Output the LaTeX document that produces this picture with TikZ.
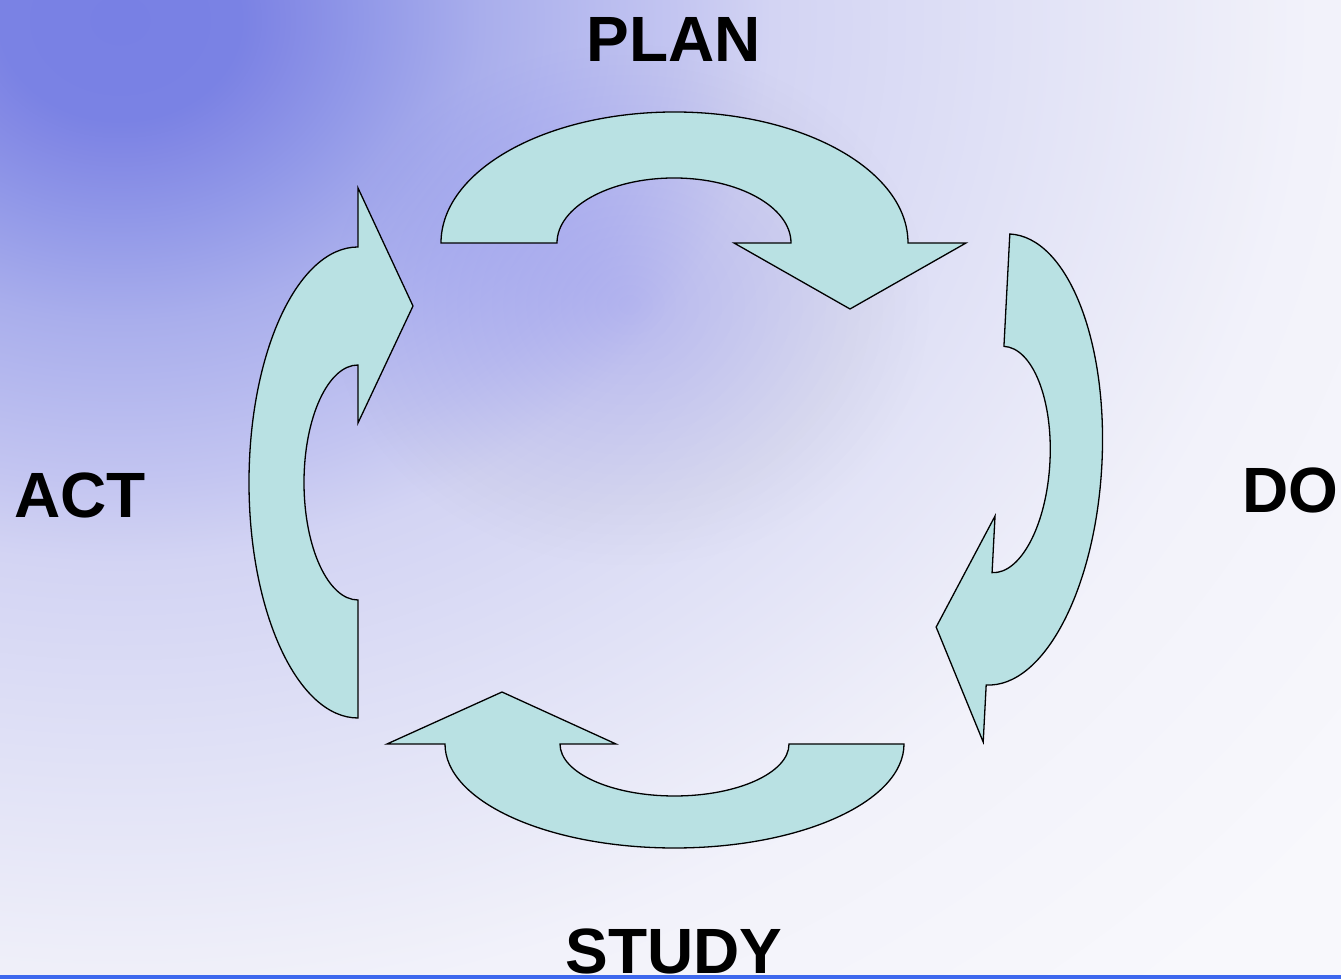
\documentclass[tikz,border=0pt]{standalone}
\usepackage{fontspec}
\setmainfont{Liberation Sans}
\definecolor{bgA}{HTML}{7880E4}
\definecolor{bgB}{HTML}{7A82E4}
\definecolor{bgC}{HTML}{8389E5}
\definecolor{bgD}{HTML}{9198E8}
\definecolor{bgE}{HTML}{A9AEEC}
\definecolor{bgF}{HTML}{C3C5F1}
\definecolor{bgG}{HTML}{D3D4F3}
\definecolor{bgH}{HTML}{E0E1F6}
\definecolor{bgI}{HTML}{F2F2FA}
\definecolor{bgJ}{HTML}{F8F8FC}
\definecolor{blobcol}{HTML}{A0A4EE}
\definecolor{arrowfill}{HTML}{B9E1E3}
\definecolor{lineblue}{HTML}{3D68EE}
\pgfdeclareradialshading{bgshade}{\pgfpoint{0bp}{0bp}}{color(0bp)=(bgA); color(100bp)=(bgB); color(135bp)=(bgC); color(200bp)=(bgD); color(300bp)=(bgE); color(460bp)=(bgF); color(541bp)=(bgG); color(734bp)=(bgH); color(990bp)=(bgI); color(1300bp)=(bgJ)}
\tikzset{
  cyclearrow/.style={fill=arrowfill, draw=black, line width=1.3pt, line join=miter},
  phase/.style={font=\bfseries\fontsize{64}{64}\selectfont, inner sep=0pt, anchor=base, text=black}
}
\begin{document}
\begin{tikzpicture}[x=1pt,y=1pt]
\useasboundingbox (0,0) rectangle (1341,979);
% background
\begin{scope}
\clip (0,0) rectangle (1341,979);
\fill[bgJ] (0,0) rectangle (1341,979);
\node[inner sep=0pt, transform shape, xscale=1.2] (bg) at (120,959) {\pgfuseshading{bgshade}};
\foreach \r in {10,20,...,260}{
  \fill[blobcol, opacity=0.0095] (630,674) ellipse[x radius=1.15*\r pt, y radius=\r pt];
}
\end{scope}
\fill[lineblue] (0,0) rectangle (1341,4);
% PLAN arrow
\draw[cyclearrow] (441,736) -- (557,736)
  arc[start angle=180, end angle=0, x radius=117pt, y radius=65pt]
  -- (734,736) -- (850,670) -- (966,736) -- (908,736)
  arc[start angle=0, end angle=180, x radius=233.5pt, y radius=131pt] -- cycle;
% STUDY arrow
\draw[cyclearrow] (789,235) -- (904,235)
  arc[start angle=0, end angle=-180, x radius=229.5pt, y radius=104pt]
  -- (387,235) -- (502,287) -- (616,235) -- (560,235)
  arc[start angle=180, end angle=360, x radius=114.5pt, y radius=52pt] -- cycle;
% ACT arrow
\draw[cyclearrow] (358,732) -- (358,791) -- (413,673) -- (358,556) -- (358,614)
  arc[start angle=90, end angle=270, x radius=54pt, y radius=117.5pt]
  -- (358,261)
  arc[start angle=270, end angle=90, x radius=109pt, y radius=235.5pt] -- cycle;
% DO arrow
\begin{scope}[shift={(998,519.5)}, rotate=-3]
\draw[cyclearrow] (0,225.8)
  arc[start angle=90, end angle=-90, x radius=104pt, y radius=225.8pt]
  -- (0,-282.9) -- (-53,-170.6) -- (0,-56.6) -- (0,-113.3)
  arc[start angle=-90, end angle=90, x radius=52pt, y radius=113.3pt] -- cycle;
\end{scope}
% labels
\node[phase] (plan) at (674,917) {PLAN};
\node[phase] (do) at (1290,466) {DO};
\node[phase] (study) at (674,5) {STUDY};
\node[phase] (act) at (80,461) {ACT};
\end{tikzpicture}
\end{document}
